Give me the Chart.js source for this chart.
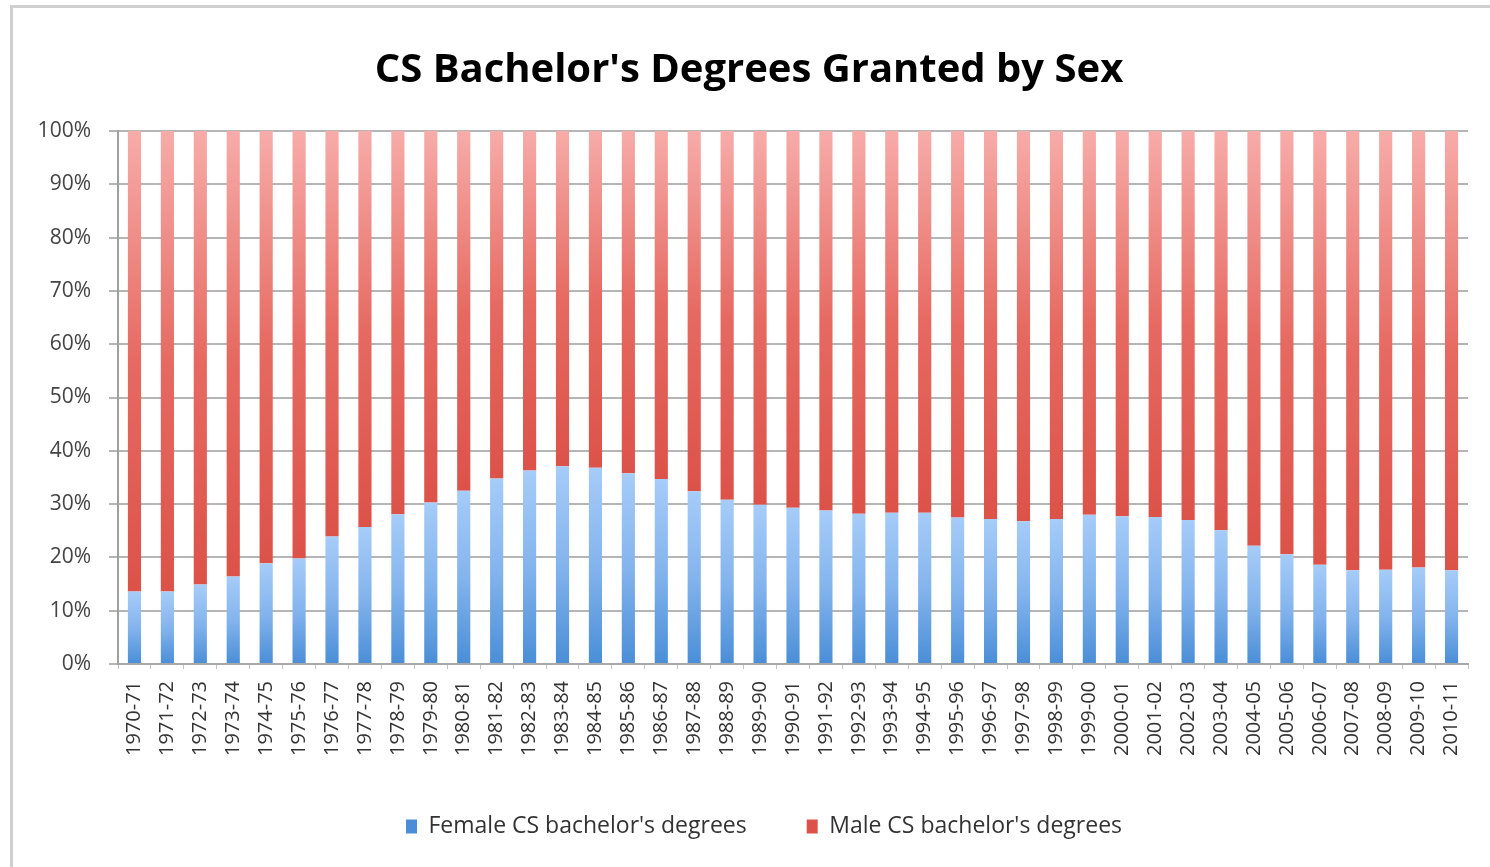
<!DOCTYPE html>
<html>
<head>
<meta charset="utf-8">
<title>CS Bachelor's Degrees Granted by Sex</title>
<script src="https://cdn.jsdelivr.net/npm/chart.js@4.4.1/dist/chart.umd.min.js"></script>
<style>
    html, body { margin: 0; padding: 0; background: #fff; overflow: hidden; }
    #frame {
        position: absolute; left: 10px; top: 5px; width: 1500px; height: 900px;
        border-left: 3px solid #cfcfcf; border-top: 3px solid #cfcfcf;
        pointer-events: none;
    }
    canvas { position: absolute; left: 0; top: 0; }
</style>
</head>
<body>
<canvas id="degrees-chart" width="1490" height="867"></canvas>
<div id="frame"></div>
<script>
const categories = [
    '1970-71', '1971-72', '1972-73', '1973-74', '1974-75', '1975-76', '1976-77',
    '1977-78', '1978-79', '1979-80', '1980-81', '1981-82', '1982-83', '1983-84',
    '1984-85', '1985-86', '1986-87', '1987-88', '1988-89', '1989-90', '1990-91',
    '1991-92', '1992-93', '1993-94', '1994-95', '1995-96', '1996-97', '1997-98',
    '1998-99', '1999-00', '2000-01', '2001-02', '2002-03', '2003-04', '2004-05',
    '2005-06', '2006-07', '2007-08', '2008-09', '2009-10', '2010-11'
];

// percent of CS bachelor's degrees
const femaleValues = [
    13.6, 13.6, 14.9, 16.4, 18.9, 19.8, 23.9, 25.7, 28.1, 30.3, 32.5, 34.8, 36.3, 37.1,
    36.8, 35.8, 34.7, 32.4, 30.8, 29.9, 29.3, 28.8, 28.2, 28.4, 28.4, 27.5, 27.2, 26.8,
    27.2, 28.0, 27.7, 27.6, 27.0, 25.1, 22.2, 20.6, 18.6, 17.6, 17.7, 18.1, 17.6
];
const maleValues = [
    86.4, 86.4, 85.1, 83.6, 81.1, 80.2, 76.1, 74.3, 71.9, 69.7, 67.5, 65.2, 63.7, 62.9,
    63.2, 64.2, 65.3, 67.6, 69.2, 70.1, 70.7, 71.2, 71.8, 71.6, 71.6, 72.5, 72.8, 73.2,
    72.8, 72.0, 72.3, 72.4, 73.0, 74.9, 77.8, 79.4, 81.4, 82.4, 82.3, 81.9, 82.4
];

const yTicks = [0, 10, 20, 30, 40, 50, 60, 70, 80, 90, 100];

Chart.defaults.font.family = "'Open Sans', 'Noto Sans', sans-serif";

// each bar segment gets its own top-to-bottom gradient, like the Excel fill
function segmentFill(stops, legendColor) {
    return context => {
        const chart = context.chart;
        if (context.type !== 'data' || !chart.chartArea) return legendColor;
        const yScale = chart.scales.y;
        let base = 0;
        for (let d = 0; d < context.datasetIndex; d++) {
            base += chart.data.datasets[d].data[context.dataIndex];
        }
        const value = chart.data.datasets[context.datasetIndex].data[context.dataIndex];
        const top = yScale.getPixelForValue(base + value);
        const bottom = yScale.getPixelForValue(base);
        const gradient = chart.ctx.createLinearGradient(0, top, 0, bottom);
        stops.forEach((color, i) => gradient.addColorStop(i / (stops.length - 1), color));
        return gradient;
    };
}

// legend sits a bit right of the plot centre in the original
const legendShift = {
    id: 'legendShift',
    afterLayout(chart) {
        chart.legend.left += 15;
        chart.legend.right += 15;
    }
};

const ctx = document.getElementById('degrees-chart').getContext('2d');
new Chart(ctx, {
    type: 'bar',
    data: {
        labels: categories,
        datasets: [
            {
                label: "Female CS bachelor's degrees",
                data: femaleValues,
                backgroundColor: segmentFill(['#a6ccf8', '#84b4ed', '#4a8ed7'], '#6d9fdc'),
                barPercentage: 0.4,
                categoryPercentage: 1
            },
            {
                label: "Male CS bachelor's degrees",
                data: maleValues,
                backgroundColor: segmentFill(['#f7aca9', '#e66a62', '#dc5249'], '#e1625c'),
                barPercentage: 0.4,
                categoryPercentage: 1
            }
        ]
    },
    plugins: [legendShift],
    options: {
        responsive: false,
        animation: false,
        layout: { padding: { left: 30, right: 22, top: 0, bottom: 19 } },
        plugins: {
            title: {
                display: true,
                text: "CS Bachelor's Degrees Granted by Sex",
                color: '#000',
                font: { size: 40, weight: 'bold' },
                padding: { top: 47, bottom: 36 }
            },
            legend: {
                position: 'bottom',
                labels: {
                    color: '#333',
                    font: { size: 23 },
                    boxWidth: 11,
                    boxHeight: 14,
                    padding: 60
                }
            },
            tooltip: { enabled: false }
        },
        scales: {
            x: {
                stacked: true,
                afterFit: scale => { scale.height = 91; },
                grid: { drawOnChartArea: false, offset: true, tickLength: 5, color: '#c4c4c4' },
                border: { color: '#a8a8a8', width: 2 },
                ticks: {
                    autoSkip: false,
                    minRotation: 90,
                    maxRotation: 90,
                    color: '#333',
                    font: { size: 20 },
                    padding: 12
                }
            },
            y: {
                stacked: true,
                min: 0,
                max: 100,
                afterFit: scale => { scale.width = 88; },
                afterBuildTicks: scale => { scale.ticks = yTicks.map(v => ({ value: v })); },
                grid: { color: '#b5b5b5', lineWidth: 2, tickLength: 9 },
                border: { color: '#a0a0a0', width: 2 },
                ticks: {
                    color: '#444',
                    font: { size: 21 },
                    padding: 18,
                    callback: value => value + '%'
                }
            }
        }
    }
});
</script>
</body>
</html>
